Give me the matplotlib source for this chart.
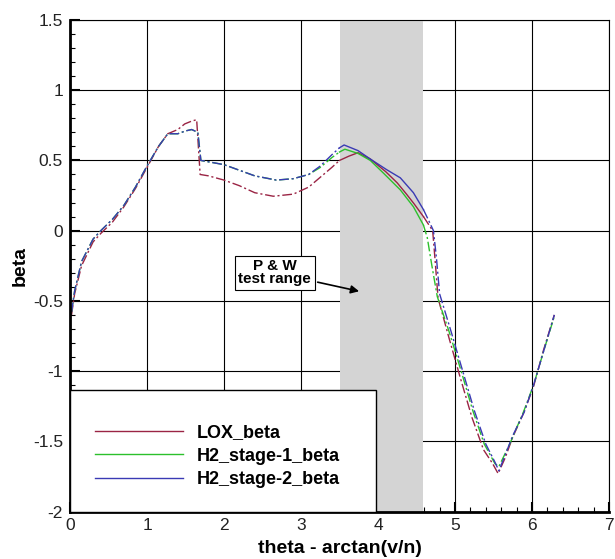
import numpy as np
import matplotlib
matplotlib.use('Agg')
import matplotlib.pyplot as plt
from matplotlib.patches import Rectangle
from matplotlib.ticker import MultipleLocator

plt.rcParams['font.family'] = ['Liberation Sans', 'DejaVu Sans']

# data
lox_x = [0.02, 0.06, 0.15, 0.3, 0.4, 0.55, 0.7, 0.85, 1.0, 1.15, 1.27, 1.4, 1.49, 1.58, 1.645,
         1.69, 1.8, 2.0, 2.2, 2.4, 2.64, 2.9, 3.1, 3.25, 3.4, 3.5, 3.62, 3.74, 3.9, 4.1, 4.25,
         4.37, 4.47, 4.59, 4.65, 4.71, 4.74, 4.78, 4.92, 5.07, 5.22, 5.37, 5.49, 5.56, 5.65,
         5.75, 5.89, 6.02, 6.15, 6.29]
lox_y = [-0.6, -0.45, -0.25, -0.08, -0.02, 0.06, 0.17, 0.3, 0.45, 0.6, 0.69, 0.72, 0.76, 0.78,
         0.79, 0.40, 0.39, 0.36, 0.32, 0.27, 0.245, 0.26, 0.31, 0.38, 0.45, 0.50, 0.53, 0.555,
         0.51, 0.42, 0.34, 0.26, 0.19, 0.10, 0.05, 0.0, -0.2, -0.48, -0.76, -1.05, -1.33,
         -1.56, -1.66, -1.73, -1.62, -1.47, -1.30, -1.11, -0.85, -0.60]

h2s1_x = [0.02, 0.06, 0.15, 0.3, 0.4, 0.55, 0.7, 0.85, 1.0, 1.15, 1.27, 1.4, 1.5, 1.58, 1.66,
          1.70, 1.8, 2.0, 2.2, 2.4, 2.68, 2.9, 3.1, 3.25, 3.4, 3.5, 3.57, 3.74, 3.9, 4.07, 4.29,
          4.46, 4.59, 4.64, 4.70, 4.77, 4.93, 5.08, 5.23, 5.38, 5.52, 5.57, 5.71, 5.89, 6.02,
          6.15, 6.29]
h2s1_y = [-0.58, -0.43, -0.22, -0.06, 0.0, 0.08, 0.18, 0.31, 0.46, 0.6, 0.69, 0.69, 0.71, 0.72,
          0.70, 0.50, 0.49, 0.47, 0.43, 0.39, 0.36, 0.37, 0.40, 0.45, 0.52, 0.56, 0.58, 0.55,
          0.50, 0.41, 0.29, 0.17, 0.04, -0.05, -0.25, -0.47, -0.73, -1.0, -1.28, -1.52, -1.66,
          -1.68, -1.52, -1.29, -1.10, -0.86, -0.61]

h2s2_x = [0.02, 0.06, 0.15, 0.3, 0.4, 0.55, 0.7, 0.85, 1.0, 1.15, 1.27, 1.4, 1.5, 1.58, 1.66,
          1.70, 1.8, 2.0, 2.2, 2.4, 2.68, 2.9, 3.1, 3.25, 3.4, 3.5, 3.56, 3.74, 3.9, 4.11, 4.29,
          4.46, 4.59, 4.66, 4.72, 4.76, 4.80, 4.95, 5.10, 5.25, 5.40, 5.52, 5.57, 5.65, 5.75,
          5.90, 6.02, 6.15, 6.29]
h2s2_y = [-0.58, -0.43, -0.22, -0.06, 0.0, 0.08, 0.18, 0.31, 0.46, 0.6, 0.69, 0.69, 0.71, 0.72,
          0.70, 0.50, 0.49, 0.47, 0.43, 0.39, 0.36, 0.37, 0.40, 0.46, 0.54, 0.59, 0.61, 0.57,
          0.51, 0.435, 0.376, 0.27, 0.15, 0.07, 0.0, -0.2, -0.45, -0.72, -1.0, -1.28, -1.52,
          -1.65, -1.71, -1.60, -1.46, -1.29, -1.10, -0.86, -0.60]

series = [
    ('LOX_beta', lox_x, lox_y, '#9a2444'),
    ('H2_stage-1_beta', h2s1_x, h2s1_y, '#2cc02c'),
    ('H2_stage-2_beta', h2s2_x, h2s2_y, '#3a3ab4'),
]
test_lo, test_hi = 3.5, 4.59

fig = plt.figure(figsize=(6.15, 5.59), dpi=100)
ax = fig.add_axes([70 / 615, 1 - 511.5 / 559, 539 / 615, 491.5 / 559])

ax.set_xlim(0, 7)
ax.set_ylim(-2, 1.5)
ax.grid(True, which='major', color='black', lw=0.8, zorder=0.5)
ax.set_axisbelow(True)

# P & W test range band
ax.axvspan(test_lo, test_hi, color='#d4d4d4', lw=0, zorder=1)

for name, xs, ys, col in series:
    xs = np.array(xs)
    ys = np.array(ys)
    left = xs <= test_lo
    mid = (xs >= test_lo) & (xs <= test_hi)
    right = xs >= test_hi
    ax.plot(xs[left], ys[left], color=col, lw=1.0, dashes=(7, 2, 1.5, 2), zorder=2)
    ax.plot(xs[mid], ys[mid], color=col, lw=1.0, zorder=2)
    ax.plot(xs[right], ys[right], color=col, lw=1.0, dashes=(7, 2, 1.5, 2), zorder=2)
    ax.plot([], [], color=col, lw=1.0, label=name)

# legend box covers the lower left corner
ax.add_patch(Rectangle((0, 0), 306 / 539, 121.5 / 491.5, transform=ax.transAxes,
                       facecolor='white', edgecolor='black', lw=1.0, zorder=3))
leg = ax.legend(loc='upper left', bbox_to_anchor=(0.046, 0.178), frameon=False,
                borderpad=0, borderaxespad=0, handlelength=4.9, handletextpad=0.75,
                labelspacing=0.37, prop={'weight': 'bold', 'size': 13})
leg.set_zorder(4)

ax.annotate('P & W\ntest range', xy=(3.79, -0.436), xytext=(2.66, -0.30),
            ha='center', va='center', fontsize=11, fontweight='bold', linespacing=0.95,
            bbox=dict(boxstyle='square,pad=0.22', fc='white', ec='black', lw=0.8),
            arrowprops=dict(arrowstyle='-|>', color='black', lw=1.2, mutation_scale=12),
            zorder=5)

ax.xaxis.set_minor_locator(MultipleLocator(0.2))
ax.yaxis.set_minor_locator(MultipleLocator(0.1))
ax.set_xticks(range(8))
ax.set_xticklabels([str(v) for v in range(8)])
ax.set_yticks([1.5, 1, 0.5, 0, -0.5, -1, -1.5, -2])
ax.set_yticklabels(['1.5', '1', '0.5', '0', '-0.5', '-1', '-1.5', '-2'])
ax.tick_params(which='both', direction='in', top=False, right=False, labelsize=12.5,
               labelcolor='#222222')
ax.tick_params(which='major', length=7, width=1.5, pad=5)
ax.tick_params(which='minor', length=3.5, width=0.8)

for s in ['left', 'bottom']:
    ax.spines[s].set_linewidth(2)
for s in ['top', 'right']:
    ax.spines[s].set_linewidth(0.8)

ax.set_xlabel('theta - arctan(v/n)', fontsize=14, fontweight='bold', labelpad=5)
ax.set_ylabel('beta', fontsize=14, fontweight='bold', labelpad=3)

fig.savefig('out.png', dpi=100)
